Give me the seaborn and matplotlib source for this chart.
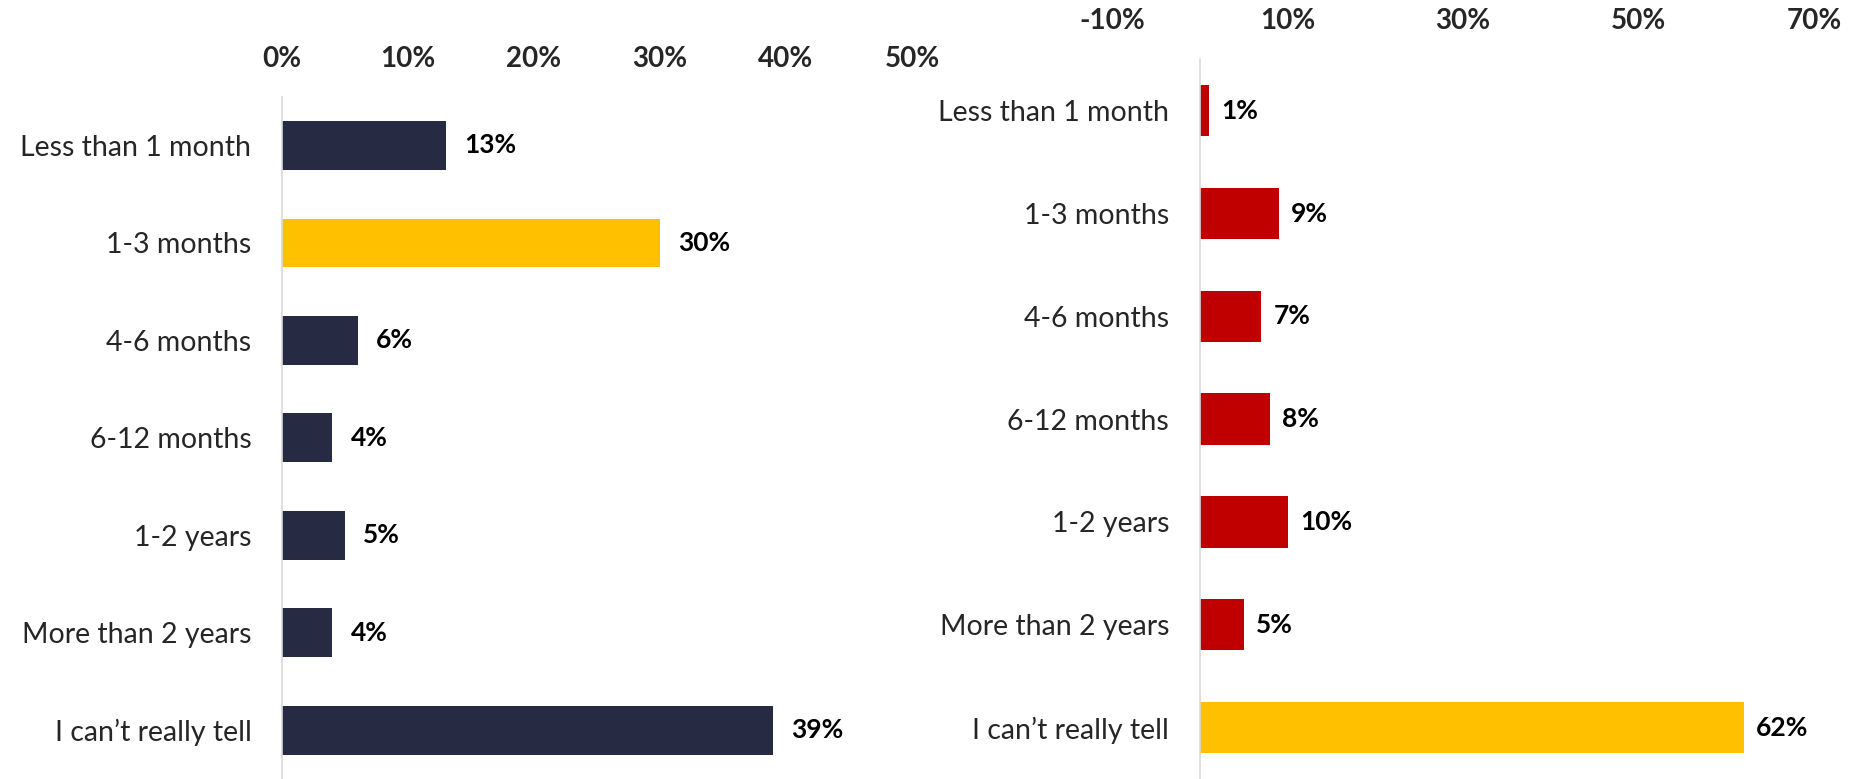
import numpy as np
import pandas as pd
import matplotlib
matplotlib.use("Agg")
import matplotlib.pyplot as plt
import seaborn as sns

# data
categories = ["Less than 1 month", "1-3 months", "4-6 months", "6-12 months",
              "1-2 years", "More than 2 years", "I can\u2019t really tell"]
left_values = [13, 30, 6, 4, 5, 4, 39]
right_values = [1, 9, 7, 8, 10, 5, 62]
left_ticks = [0, 10, 20, 30, 40, 50]
right_ticks = [-10, 10, 30, 50, 70]

NAVY = "#262a43"
RED = "#c00000"
YELLOW = "#ffc000"
GRID = "#d9d9d9"

sns.set_style("white")
plt.rcParams["font.family"] = ["Lato", "DejaVu Sans"]

left_colors = [YELLOW if v == 30 else NAVY for v in left_values]
right_colors = [YELLOW if v == 62 else RED for v in right_values]

df_left = pd.DataFrame({"cat": categories, "pct": left_values})
df_right = pd.DataFrame({"cat": categories, "pct": right_values})

fig = plt.figure(figsize=(18.54, 7.79), dpi=100)
ax1 = fig.add_axes([0.1521, 0.0, 0.3398, 0.8759])
ax2 = fig.add_axes([0.5998, 0.0, 0.3786, 0.9239])


def draw_panel(ax, df, colors, xlim, ticks, label_pad, boundary_ticks):
    sns.barplot(data=df, x="pct", y="cat", hue="cat", palette=colors,
                saturation=1, orient="h", width=0.5, linewidth=0,
                legend=False, ax=ax)
    ax.set_xlim(*xlim)
    ax.set_ylim(len(categories) - 0.5, -0.5)
    ax.xaxis.tick_top()
    ax.set_xticks(ticks, labels=[f"{t}%" for t in ticks],
                  fontweight="bold", fontsize=20)
    ax.tick_params(axis="x", length=0, pad=18)
    ax.tick_params(axis="y", which="major", length=0, pad=22, labelsize=20.5)
    ax.set_xlabel("")
    ax.set_ylabel("")
    for side in ["top", "right", "bottom"]:
        ax.spines[side].set_visible(False)
    ax.spines["left"].set_color(GRID)
    ax.spines["left"].set_linewidth(1.2)
    ax.spines["left"].set_position(("data", 0))
    if boundary_ticks:
        # small grey marks between the categories
        ax.set_yticks(np.arange(-0.5, len(categories), 1), minor=True)
        ax.tick_params(axis="y", which="minor", length=7, width=1.2,
                       color=GRID, direction="out")
    for cont in ax.containers:
        ax.bar_label(cont, fmt="%.0f%%", padding=label_pad,
                     fontsize=19, fontweight="bold", color="black")


draw_panel(ax1, df_left, left_colors, (0, 50), left_ticks, 13, True)
draw_panel(ax2, df_right, right_colors, (-10, 70), right_ticks, 9, False)

fig.savefig("out.png", dpi=100)
